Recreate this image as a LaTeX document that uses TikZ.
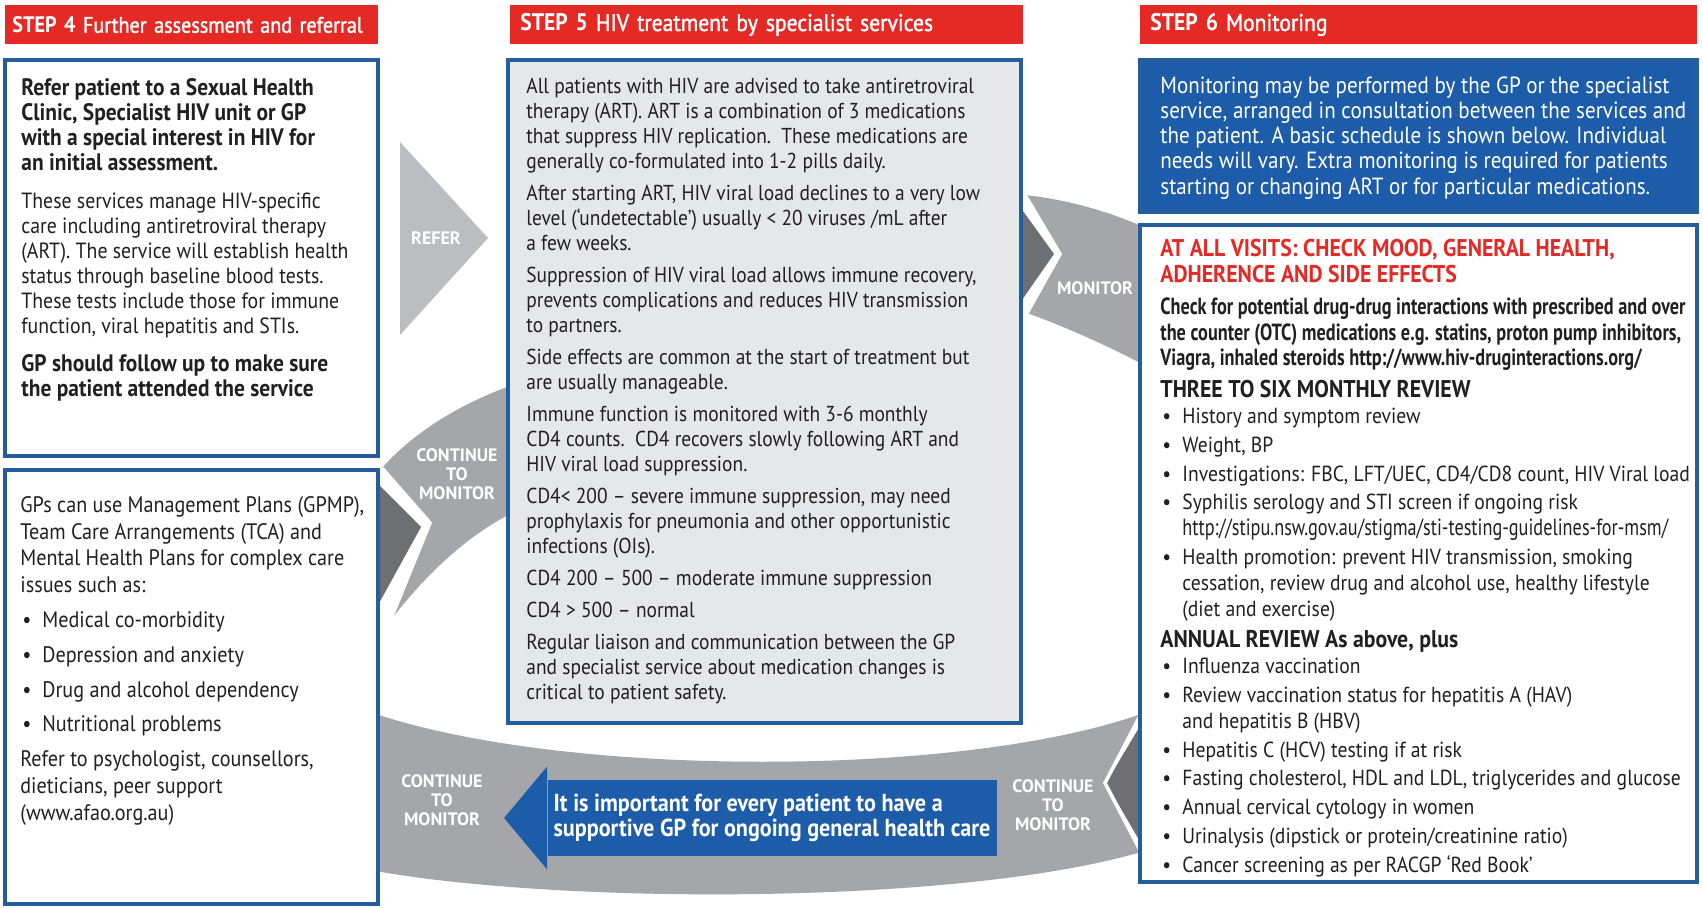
\documentclass[tikz,border=0pt]{standalone}
\usepackage{fontspec}
\setmainfont{PT Sans}[FakeStretch=0.9]
\newfontfamily\condfont{PT Sans}[FakeStretch=0.78]
\newfontfamily\semibold{PT Sans}[FakeStretch=0.9,FakeBold=1.5]
\newfontfamily\labelfont{PT Sans}
\usetikzlibrary{positioning,fit,calc}

\definecolor{stepred}{HTML}{E52A25}
\definecolor{panelblue}{HTML}{245E9C}
\definecolor{gpblue}{HTML}{1D5CA8}
\definecolor{paleface}{HTML}{E6E7E8}
\definecolor{bandgrey}{HTML}{A4A6A9}
\definecolor{refergrey}{HTML}{BCBDC0}
\definecolor{foldgrey}{HTML}{6E6F72}
\definecolor{inkdark}{HTML}{231F20}

\newcommand{\bul}{\makebox[11pt][l]{\hspace{1pt}\textbullet}}
\newcommand{\cont}{\hspace*{11pt}}

\begin{document}
\begin{tikzpicture}[x=0.5pt,y=-0.5pt,
  stephead/.style={fill=stepred, text=white, anchor=north west,
                   inner xsep=5pt, inner ysep=0pt, minimum height=19.5pt,
                   align=left, font=\fontsize{12}{13}\selectfont},
  panel/.style={draw=panelblue, line width=2pt, fill=white, inner sep=0pt},
  txt/.style={inner sep=0pt, align=left, text=inkdark},
  band/.style={fill=bandgrey},
  fold/.style={fill=foldgrey},
  notch/.style={draw=white, line width=1.8pt, line join=miter},
  bandlabel/.style={text=white, align=center, inner sep=0pt,
                    font=\labelfont\bfseries\fontsize{9}{9.6}\selectfont},
  gpnote/.style={fill=gpblue, text=white, align=left,
                 minimum width=224.5pt, minimum height=38pt, inner xsep=1pt,
                 font=\bfseries\fontsize{12.3}{12.5}\selectfont}
]
  \useasboundingbox (0,0) rectangle (1703,908);
  \fill[white] (0,0) rectangle (1703,908);

  % grey ring pieces, drawn first so the panels sit on top
  \fill[refergrey] (400,142) -- (488,238) -- (400,335) -- cycle;

  \fill[fold] (372,478) -- (421,527) -- (372,616) -- cycle;
  \fill[band] (510,386) .. controls (460,404) and (414,432) .. (382,468)
    -- (430,523) -- (390,621) .. controls (420,582) and (460,540) .. (510,514)
    -- cycle;
  \draw[notch] (382,468) -- (430,523) -- (390,621);

  \fill[fold] (1015,200) -- (1054,254) -- (1015,310) -- cycle;
  \fill[band] (1025,195) .. controls (1070,200) and (1110,212) .. (1146,228)
    -- (1146,366) .. controls (1108,346) and (1066,327) .. (1027,313)
    -- (1060,254) -- cycle;
  \draw[notch] (1025,195) -- (1060,254) -- (1027,313);

  \fill[fold] (1146,716) -- (1106,783) -- (1146,852) -- cycle;
  \fill[band] (370,712) .. controls (560,778) and (960,778) .. (1141,714)
    -- (1105,783) -- (1141,852) .. controls (960,905) and (560,905) .. (370,870)
    -- cycle;
  \draw[notch] (1141,714) -- (1105,783) -- (1141,852);

  % step headers
  \node[stephead, inner xsep=3.5pt, text width=179.5pt,
        font=\fontsize{11.2}{13}\selectfont] (h4) at (5,5)
    {\textbf{STEP 4} {\semibold Further assessment and referral}};
  \node[stephead, text width=246.5pt] (h5) at (510,5)
    {\textbf{STEP 5} {\semibold HIV treatment by specialist services}};
  \node[stephead, text width=268.5pt] (h6) at (1140,5)
    {\textbf{STEP 6} {\semibold Monitoring}};

  % panels
  \node[panel, fit={(5,60) (378,456)}] (b4a) {};
  \node[panel, fit={(5,470) (378,904)}] (b4b) {};
  \node[panel, fill=paleface, fit={(508,60) (1021,723)}] (b5) {};
  \node[panel, fill=gpblue, fit={(1140,60) (1697,212)}] (b6a) {};
  \node[panel, fit={(1140,225) (1697,882)}] (b6b) {};

  \node[txt, below right=10pt and 9pt of b4a.north west,
        font=\fontsize{11}{12.5}\selectfont] (t4a) {%
    {\bfseries\fontsize{11.9}{12.5}\selectfont Refer patient to a Sexual Health}\\
    {\bfseries\fontsize{11.9}{12.5}\selectfont Clinic, Specialist HIV unit or GP}\\
    {\bfseries\fontsize{11.9}{12.5}\selectfont with a special interest in HIV for}\\
    {\bfseries\fontsize{11.9}{12.5}\selectfont an initial assessment.}\\[6.5pt]
    These services manage HIV-specific\\
    care including antiretroviral therapy\\
    (ART). The service will establish health\\
    status through baseline blood tests.\\
    These tests include those for immune\\
    function, viral hepatitis and STIs.\\[6.5pt]
    {\bfseries\fontsize{11.9}{12.5}\selectfont GP should follow up to make sure}\\
    {\bfseries\fontsize{11.9}{12.5}\selectfont the patient attended the service}};

  \node[txt, below right=14pt and 8.5pt of b4b.north west,
        font=\fontsize{11.2}{13.4}\selectfont] (t4b) {%
    GPs can use Management Plans (GPMP),\\
    Team Care Arrangements (TCA) and\\
    Mental Health Plans for complex care\\
    issues such as:\\[4pt]
    \bul Medical co-morbidity\\[4pt]
    \bul Depression and anxiety\\[4pt]
    \bul Drug and alcohol dependency\\[4pt]
    \bul Nutritional problems\\[4pt]
    Refer to psychologist, counsellors,\\
    dieticians, peer support\\
    (www.afao.org.au)};

  \node[txt, below right=10pt and 10pt of b5.north west,
        font=\fontsize{10.8}{12.5}\selectfont] (t5) {%
    All patients with HIV are advised to take antiretroviral\\
    therapy (ART). ART is a combination of 3 medications\\
    that suppress HIV replication.\ \ These medications are\\
    generally co-formulated into 1-2 pills daily.\\[3.5pt]
    After starting ART, HIV viral load declines to a very low\\
    level (‘undetectable’) usually < 20 viruses /mL after\\
    a few weeks.\\[3.5pt]
    Suppression of HIV viral load allows immune recovery,\\
    prevents complications and reduces HIV transmission\\
    to partners.\\[3.5pt]
    Side effects are common at the start of treatment but\\
    are usually manageable.\\[3.5pt]
    Immune function is monitored with 3-6 monthly\\
    CD4 counts.\ \ CD4 recovers slowly following ART and\\
    HIV viral load suppression.\\[3.5pt]
    CD4< 200 – severe immune suppression, may need\\
    prophylaxis for pneumonia and other opportunistic\\
    infections (OIs).\\[3.5pt]
    CD4 200 – 500 – moderate immune suppression\\[3.5pt]
    CD4 > 500 – normal\\[3.5pt]
    Regular liaison and communication between the GP\\
    and specialist service about medication changes is\\
    critical to patient safety.};

  \node[txt, text=white, below right=9pt and 11pt of b6a.north west,
        font=\fontsize{11.7}{12.65}\selectfont] (t6a) {%
    Monitoring may be performed by the GP or the specialist\\
    service, arranged in consultation between the services and\\
    the patient. A basic schedule is shown below. Individual\\
    needs will vary. Extra monitoring is required for patients\\
    starting or changing ART or for particular medications.};

  \node[txt, below right=8pt and 11pt of b6b.north west,
        font=\fontsize{10.9}{12.9}\selectfont] (t6b) {%
    {\color{stepred}\bfseries\fontsize{12.1}{12.9}\selectfont AT ALL VISITS: CHECK MOOD, GENERAL HEALTH,}\\
    {\color{stepred}\bfseries\fontsize{12.1}{12.9}\selectfont ADHERENCE AND SIDE EFFECTS}\\[3pt]
    {\condfont\bfseries\fontsize{11.7}{12.9}\selectfont Check for potential drug-drug interactions with prescribed and over}\\
    {\condfont\bfseries\fontsize{11.7}{12.9}\selectfont the counter (OTC) medications e.g. statins, proton pump inhibitors,}\\
    {\condfont\bfseries\fontsize{11.7}{12.9}\selectfont Viagra, inhaled steroids http://www.hiv-druginteractions.org/}\\[3pt]
    {\bfseries\fontsize{12.1}{12.9}\selectfont THREE TO SIX MONTHLY REVIEW}\\
    \bul History and symptom review\\[1.5pt]
    \bul Weight, BP\\[1.5pt]
    \bul Investigations: FBC, LFT/UEC, CD4/CD8 count, HIV Viral load\\[1.5pt]
    \bul Syphilis serology and STI screen if ongoing risk\\
    \cont{\condfont\fontsize{11.7}{12.9}\selectfont http://stipu.nsw.gov.au/stigma/sti-testing-guidelines-for-msm/}\\[1.5pt]
    \bul Health promotion: prevent HIV transmission, smoking\\
    \cont cessation, review drug and alcohol use, healthy lifestyle\\
    \cont (diet and exercise)\\[3pt]
    {\bfseries\fontsize{12.1}{12.9}\selectfont ANNUAL REVIEW As above, plus}\\
    \bul Influenza vaccination\\[1.5pt]
    \bul Review vaccination status for hepatitis A (HAV)\\
    \cont and hepatitis B (HBV)\\[1.5pt]
    \bul Hepatitis C (HCV) testing if at risk\\[1.5pt]
    \bul Fasting cholesterol, HDL and LDL, triglycerides and glucose\\[1.5pt]
    \bul Annual cervical cytology in women\\[1.5pt]
    \bul Urinalysis (dipstick or protein/creatinine ratio)\\[1.5pt]
    \bul Cancer screening as per RACGP ‘Red Book’};

  % labels on the grey ring
  \node[bandlabel] (refer) at (436,238) {REFER};
  \node[bandlabel] (contup) at (457,474) {CONTINUE\\TO\\MONITOR};
  \node[bandlabel] (monitor) at (1095,288) {MONITOR};
  \node[bandlabel] (contleft) at (442,800) {CONTINUE\\TO\\MONITOR};
  \node[bandlabel] (contright) at (1053,805) {CONTINUE\\TO\\MONITOR};

  % GP note arrow
  \node[gpnote] (gp) at (772,818)
    {It is important for every patient to have a\\
     supportive GP for ongoing general health care};
  \fill[gpblue] ([yshift=6.5pt]gp.north west) -- ([xshift=-21.5pt]gp.west)
    -- ([yshift=-6.5pt]gp.south west) -- cycle;
\end{tikzpicture}
\end{document}
